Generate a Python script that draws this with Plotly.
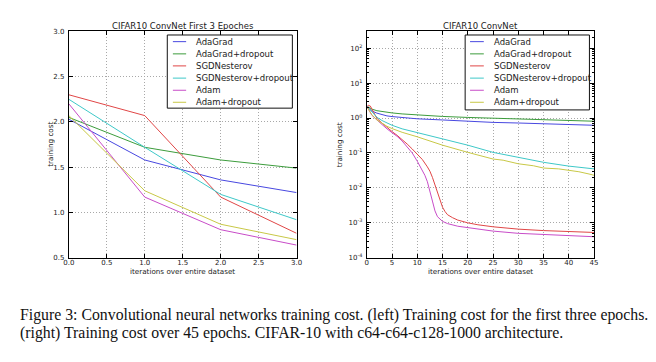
import plotly.graph_objects as go

W, H = 656, 362

# ---------------- data ----------------
series_names = ["AdaGrad", "AdaGrad+dropout", "SGDNesterov",
                "SGDNesterov+dropout", "Adam", "Adam+dropout"]
series_colors = ["#4848e0", "#3c9c3c", "#e04646", "#3ec8c8", "#c84cc8", "#c8c846"]

# Left panel: first 3 epochs
left_epochs = [0, 1, 2, 3]
left_adagrad = [2.03, 1.58, 1.36, 1.22]
left_adagrad_do = [2.05, 1.72, 1.58, 1.49]
left_sgdn = [2.30, 2.07, 1.17, 0.77]
left_sgdn_do = [2.25, 1.72, 1.20, 0.92]
left_adam = [2.20, 1.17, 0.81, 0.64]
left_adam_do = [2.07, 1.24, 0.87, 0.70]

# Right panel: 45 epochs (log scale)
r_adagrad_x = [0, 0.5, 1, 2, 3, 4, 5, 7, 10, 15, 20, 25, 30, 35, 40, 45]
r_adagrad_y = [2.1, 1.8, 1.6, 1.38, 1.24, 1.15, 1.1, 1.02, 0.95, 0.88, 0.8, 0.75, 0.72, 0.68, 0.65, 0.62]

r_adagrad_do_x = [0, 0.5, 1, 2, 3, 5, 7, 10, 15, 20, 25, 30, 35, 40, 45]
r_adagrad_do_y = [2.2, 1.95, 1.8, 1.62, 1.52, 1.4, 1.31, 1.21, 1.11, 1.04, 0.98, 0.93, 0.89, 0.85, 0.81]

r_sgdn_x = [0, 0.3, 0.7, 1, 1.5, 2, 3, 4, 5, 6, 7, 8, 9, 10, 11, 12, 12.5, 13, 13.5,
            14, 14.5, 15, 15.5, 16, 17, 18, 20, 22, 25, 28, 30, 35, 40, 45]
r_sgdn_y = [2.1, 2.3, 2.2, 1.8, 1.25, 0.98, 0.72, 0.53, 0.41, 0.32, 0.245, 0.18, 0.13, 0.095,
            0.065, 0.04, 0.03, 0.02, 0.012, 0.0072, 0.0042, 0.0028, 0.0021, 0.0017, 0.0014,
            0.0012, 0.001, 0.00088, 0.00077, 0.0007, 0.00066, 0.0006, 0.00057, 0.00053]

r_sgdn_do_x = [0, 0.5, 1, 2, 3, 4, 5, 7, 10, 12.5, 15, 20, 25, 30, 35, 40, 45]
r_sgdn_do_y = [2.2, 1.8, 1.45, 1.05, 0.85, 0.71, 0.62, 0.49, 0.38, 0.31, 0.26, 0.167,
               0.104, 0.075, 0.054, 0.042, 0.035]

r_adam_x = [0, 0.5, 1, 2, 3, 4, 5, 6, 7, 8, 9, 10, 11, 11.5, 12, 12.5, 13, 13.5, 14,
            15, 16, 18, 20, 25, 30, 35, 40, 45]
r_adam_y = [2.2, 1.6, 1.2, 0.88, 0.64, 0.49, 0.38, 0.3, 0.22, 0.15, 0.1, 0.058, 0.033,
            0.023, 0.015, 0.0085, 0.0042, 0.0022, 0.0015, 0.0011, 0.00095, 0.0008, 0.00072,
            0.00058, 0.0005, 0.00046, 0.00043, 0.0004]

r_adam_do_x = [0, 0.5, 1, 2, 3, 4, 5, 7, 10, 12.5, 15, 20, 23, 25, 27, 30, 33, 35, 38,
               40, 42, 44, 45]
r_adam_do_y = [2.1, 1.6, 1.25, 0.88, 0.7, 0.58, 0.5, 0.39, 0.29, 0.22, 0.167, 0.104,
               0.08, 0.067, 0.062, 0.049, 0.043, 0.037, 0.035, 0.032, 0.029, 0.025, 0.023]

left_series = [left_adagrad, left_adagrad_do, left_sgdn, left_sgdn_do, left_adam, left_adam_do]
right_series = [(r_adagrad_x, r_adagrad_y), (r_adagrad_do_x, r_adagrad_do_y),
                (r_sgdn_x, r_sgdn_y), (r_sgdn_do_x, r_sgdn_do_y),
                (r_adam_x, r_adam_y), (r_adam_do_x, r_adam_do_y)]

left_title = "CIFAR10 ConvNet First 3 Epoches"
right_title = "CIFAR10 ConvNet"
x_label = "iterations over entire dataset"
y_label = "training cost"
caption_lines = [
    "Figure 3: Convolutional neural networks training cost. (left) Training cost for the first three epochs.",
    "(right) Training cost over 45 epochs. CIFAR-10 with c64-c64-c128-1000 architecture.",
]
left_xticks = [0, 0.5, 1, 1.5, 2, 2.5, 3]
left_yticks = [0.5, 1, 1.5, 2, 2.5, 3]
right_xticks = [0, 5, 10, 15, 20, 25, 30, 35, 40, 45]
right_ytick_exps = [-4, -3, -2, -1, 0, 1, 2]

# ---------------- figure ----------------
fig = go.Figure()
for name, col, ys in zip(series_names, series_colors, left_series):
    fig.add_trace(go.Scatter(x=left_epochs, y=ys, mode="lines", name=name,
                             line=dict(color=col, width=1), xaxis="x", yaxis="y",
                             showlegend=False))
for name, col, (xs, ys) in zip(series_names, series_colors, right_series):
    fig.add_trace(go.Scatter(x=xs, y=ys, mode="lines", name=name,
                             line=dict(color=col, width=1), xaxis="x2", yaxis="y2",
                             showlegend=False))

def px(x):
    return x / W

def py(y):
    return 1 - y / H

FONT = "DejaVu Sans"
TXT = "#222222"
tickfont = dict(family=FONT, size=7, color=TXT)

axis_common = dict(
    showline=True, linecolor="#000000", linewidth=1, mirror="ticks",
    ticks="inside", ticklen=4, tickwidth=0.8, tickcolor="#000000",
    showgrid=True, gridcolor="#a8a8a8", griddash="1px,2px", gridwidth=0.8,
    zeroline=False, tickfont=tickfont,
)
xaxis_common = dict(axis_common, ticklabelstandoff=-2)
yaxis_common = dict(axis_common, ticklabelstandoff=2)

L_x0, L_x1 = 64, 296
R_x0, R_x1 = 367.5, 599
Y_top, Y_bot = 28, 259.5

fig.update_layout(
    width=W, height=H, margin=dict(l=0, r=0, t=0, b=0),
    paper_bgcolor="white", plot_bgcolor="white", showlegend=False,
    xaxis=dict(domain=[px(L_x0), px(L_x1)], range=[0, 3], anchor="y",
               tickvals=left_xticks, ticktext=[f"{v:.1f}" for v in left_xticks], **xaxis_common),
    yaxis=dict(domain=[py(Y_bot), py(Y_top)], range=[0.5, 3], anchor="x",
               tickvals=left_yticks, ticktext=[f"{v:.1f}" for v in left_yticks], **yaxis_common),
    xaxis2=dict(domain=[px(R_x0), px(R_x1)], range=[0, 45], anchor="y2",
                tickvals=right_xticks, ticktext=[str(v) for v in right_xticks], **xaxis_common),
    yaxis2=dict(domain=[py(Y_bot), py(Y_top)], type="log", range=[-4, 2.48], anchor="x2",
                tickvals=[10.0 ** e for e in right_ytick_exps],
                ticktext=[f"10<sup>{e}</sup>" for e in right_ytick_exps],
                minor=dict(ticks="inside", ticklen=2, tickcolor="#000000", tickwidth=0.6,
                           showgrid=False,
                           tickvals=[m * 10.0 ** e for e in range(-4, 3) for m in range(2, 10)
                                     if m * 10.0 ** e < 10 ** 2.48]),
                **yaxis_common),
)

annotations = []
shapes = []

# titles
for text, cx in [(left_title, (L_x0 + L_x1) / 2), (right_title, (R_x0 + R_x1) / 2)]:
    annotations.append(dict(text=text, x=px(cx), y=py(22.5), xref="paper", yref="paper",
                            showarrow=False, xanchor="center", yanchor="middle",
                            font=dict(family=FONT, size=8.5, color=TXT)))
# axis labels
for cx in [(L_x0 + L_x1) / 2, (R_x0 + R_x1) / 2]:
    annotations.append(dict(text=x_label, x=px(cx), y=py(274), xref="paper", yref="paper",
                            showarrow=False, xanchor="center", yanchor="middle",
                            font=dict(family=FONT, size=7.2, color=TXT)))
for lx in [45, 340]:
    annotations.append(dict(text=y_label, x=px(lx), y=py((Y_top + Y_bot) / 2), xref="paper",
                            yref="paper", showarrow=False, xanchor="center", yanchor="middle",
                            textangle=-90, font=dict(family=FONT, size=7.2, color=TXT)))

# manual legends (matplotlib style)
row_y = [38.5, 51, 63.3, 75.8, 88.2, 100.5]
for (bx0, bx1, by0, by1, lx0, lx1, tx) in [(164.3, 291.7, 31.7, 106.5, 170, 183.5, 191.5),
                                           (467.7, 594.3, 31.7, 108.3, 472.7, 486.7, 495)]:
    shapes.append(dict(type="rect", xref="paper", yref="paper", x0=px(bx0), x1=px(bx1),
                       y0=py(by1), y1=py(by0), line=dict(color="#111111", width=1),
                       fillcolor="white", layer="above"))
    for name, col, ry in zip(series_names, series_colors, row_y):
        shapes.append(dict(type="line", xref="paper", yref="paper", x0=px(lx0), x1=px(lx1),
                           y0=py(ry), y1=py(ry), line=dict(color=col, width=1), layer="above"))
        annotations.append(dict(text=name, x=px(tx), y=py(ry), xref="paper", yref="paper",
                                showarrow=False, xanchor="left", yanchor="middle",
                                font=dict(family=FONT, size=8.5, color=TXT)))

# caption
for line, cy in zip(caption_lines, [318, 336]):
    annotations.append(dict(text=line, x=px(12), y=py(cy), xref="paper", yref="paper",
                            showarrow=False, xanchor="left", yanchor="middle",
                            font=dict(family="Liberation Serif", size=15.8, color="#111111")))

fig.update_layout(annotations=annotations, shapes=shapes)
fig.write_html("out.html", config={"displayModeBar": False},
               post_script="document.body.style.margin='0';")
